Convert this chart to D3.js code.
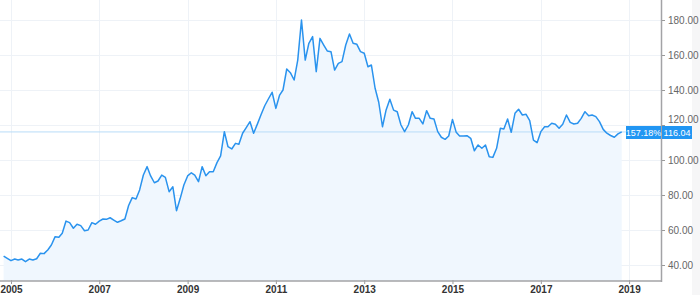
<!DOCTYPE html>
<html>
<head>
<meta charset="utf-8">
<script src="https://cdn.jsdelivr.net/npm/d3@7"></script>
<style>
  body { margin: 0; background: #fff; }
  svg { display: block; font-family: "Liberation Sans", Arial, sans-serif; }
</style>
</head>
<body>
<div id="chart"></div>
<script>
var width = 700
var height = 295

// monthly closes, Nov 2004 .. Nov 2018
var startMonth = "2004-11"
var values = [
  45.1, 43.8, 42.5, 43.4, 42.9, 43.4, 41.9, 43.4, 42.9, 43.6,
  46.7, 46.5, 48.6, 51.4, 56.2, 55.8, 58.1, 65.1, 64.2, 61.0,
  63.3, 62.5, 59.6, 60.0, 64.2, 63.3, 65.1, 66.3, 66.1, 67.0,
  65.7, 64.4, 65.3, 66.3, 74.0, 78.5, 77.7, 82.9, 91.4, 96.2,
  90.9, 87.0, 88.0, 91.4, 90.1, 81.9, 84.7, 71.0, 78.1, 85.7,
  90.9, 92.7, 91.4, 87.6, 96.2, 91.0, 93.3, 93.3, 98.5, 102.3,
  116.2, 107.6, 106.3, 109.5, 109.0, 115.3, 118.5, 121.9, 115.3, 120.5,
  126.0, 131.0, 135.0, 138.7, 129.5, 137.1, 140.0, 152.0, 149.9, 145.7,
  157.1, 180.0, 157.1, 166.7, 170.5, 150.5, 169.5, 165.7, 162.3, 161.9,
  151.4, 155.2, 156.2, 165.7, 172.0, 166.7, 166.1, 161.9, 161.0, 153.3,
  154.3, 141.0, 133.0, 119.0, 128.6, 134.7, 128.5, 127.6, 120.0, 116.2,
  120.0, 127.6, 123.8, 123.8, 120.6, 128.2, 123.8, 123.4, 116.2, 113.0,
  111.8, 113.7, 123.2, 115.8, 113.7, 113.7, 113.9, 112.4, 105.3, 108.6,
  106.7, 108.6, 101.9, 101.5, 106.7, 118.1, 117.7, 123.4, 115.8, 126.7,
  129.0, 125.7, 126.1, 122.5, 111.4, 109.9, 116.2, 119.0, 119.0, 121.0,
  120.4, 118.1, 120.4, 125.7, 121.5, 120.6, 121.0, 123.8, 127.6, 125.3,
  125.7, 124.8, 121.9, 117.5, 115.3, 114.0, 113.0, 114.9, 116.04
]
var yTicks = [40, 60, 80, 100, 120, 140, 160, 180]
var xTickYears = [2005, 2007, 2009, 2011, 2013, 2015, 2017, 2019]
var lastValue = 116.04
var changeLabel = "157.18%"

var parseMonth = d3.timeParse("%Y-%m")
var t0 = parseMonth(startMonth)
var data = values.map(function(v, i) {
    return { date: d3.timeMonth.offset(t0, i), value: v }
})

var plotRight = 661
var plotBottom = 281

var x = d3.scaleTime()
    .domain([new Date(2004, 9, 2), new Date(2019, 8, 22)])
    .range([0, plotRight])

var y = d3.scaleLinear()
    .domain([40, 180])
    .range([265, 20])

var svg = d3.select("#chart")
    .append("svg")
    .attr("width", width)
    .attr("height", height)

// grey strip on the far right
svg.append("rect")
    .attr("x", 692).attr("y", 0)
    .attr("width", width - 692).attr("height", height)
    .attr("fill", "#f6f6f7")

// grid
svg.append("g")
    .selectAll("line")
    .data(yTicks)
    .enter()
    .append("line")
    .attr("x1", 0).attr("x2", plotRight)
    .attr("y1", d => Math.round(y(d)) + 0.5)
    .attr("y2", d => Math.round(y(d)) + 0.5)
    .attr("stroke", "#eef2f7")

svg.append("g")
    .selectAll("line")
    .data(xTickYears)
    .enter()
    .append("line")
    .attr("x1", d => Math.round(x(new Date(d, 0, 1))) + 0.5)
    .attr("x2", d => Math.round(x(new Date(d, 0, 1))) + 0.5)
    .attr("y1", 0).attr("y2", plotBottom)
    .attr("stroke", "#eef2f7")

// area + line
var area = d3.area()
    .x(d => x(d.date))
    .y0(plotBottom)
    .y1(d => y(d.value))

var line = d3.line()
    .x(d => x(d.date))
    .y(d => y(d.value))

svg.append("path")
    .datum(data)
    .attr("d", area)
    .attr("fill", "#f0f7fe")

// last value line
svg.append("line")
    .attr("x1", 0).attr("x2", plotRight)
    .attr("y1", y(lastValue)).attr("y2", y(lastValue))
    .attr("stroke", "#b9dcf8")
    .attr("stroke-width", 1)

svg.append("path")
    .datum(data)
    .attr("d", line)
    .attr("fill", "none")
    .attr("stroke", "#2a93ee")
    .attr("stroke-width", 1.5)
    .attr("stroke-linejoin", "round")

// axes
var yAxis = d3.axisRight(y)
    .tickValues(yTicks)
    .tickFormat(d3.format(".2f"))
    .tickSize(4)
    .tickPadding(3)

var gy = svg.append("g")
    .attr("transform", "translate(" + plotRight + ",0)")
    .call(yAxis)
gy.select(".domain").remove()
gy.selectAll(".tick line").attr("stroke", "#999")
gy.selectAll("text").attr("fill", "#666").style("font-size", "10px")
// nudge the tick label sitting under the last-value tag up so both stay readable
gy.selectAll(".tick")
    .filter(d => Math.abs(y(d) - y(lastValue)) < 12)
    .select("text")
    .attr("dy", "-0.3em")

svg.append("line")
    .attr("x1", plotRight + 0.5).attr("x2", plotRight + 0.5)
    .attr("y1", 0).attr("y2", plotBottom + 1)
    .attr("stroke", "#a3a3a6")
    .attr("stroke-width", 1.5)

var xAxis = d3.axisBottom(x)
    .tickValues(xTickYears.map(d => new Date(d, 0, 1)))
    .tickFormat(d3.timeFormat("%Y"))
    .tickSize(4)
    .tickPadding(2)

var gx = svg.append("g")
    .attr("transform", "translate(0," + (plotBottom - 1) + ")")
    .call(xAxis)
gx.select(".domain").remove()
gx.selectAll(".tick line").attr("stroke", "#999")
gx.selectAll("text").attr("fill", "#333").style("font-size", "10px").style("font-weight", "bold")

svg.append("line")
    .attr("x1", 0).attr("x2", plotRight)
    .attr("y1", plotBottom).attr("y2", plotBottom)
    .attr("stroke", "#a3a3a6")
    .attr("stroke-width", 1.5)

// value labels
var ly = Math.round(y(lastValue))
var boxes = [
    { x: 626, w: 35, text: changeLabel },
    { x: 662, w: 30, text: d3.format(".2f")(lastValue) }
]
var lab = svg.append("g")
lab.selectAll("rect")
    .data(boxes)
    .enter()
    .append("rect")
    .attr("x", d => d.x).attr("y", ly - 6)
    .attr("width", d => d.w).attr("height", 13)
    .attr("fill", "#2196f3")
lab.selectAll("text")
    .data(boxes)
    .enter()
    .append("text")
    .attr("x", d => d.x + d.w / 2).attr("y", ly + 3.5)
    .attr("text-anchor", "middle")
    .attr("fill", "#fff")
    .style("font-size", "9px")
    .text(d => d.text)
</script>
</body>
</html>
